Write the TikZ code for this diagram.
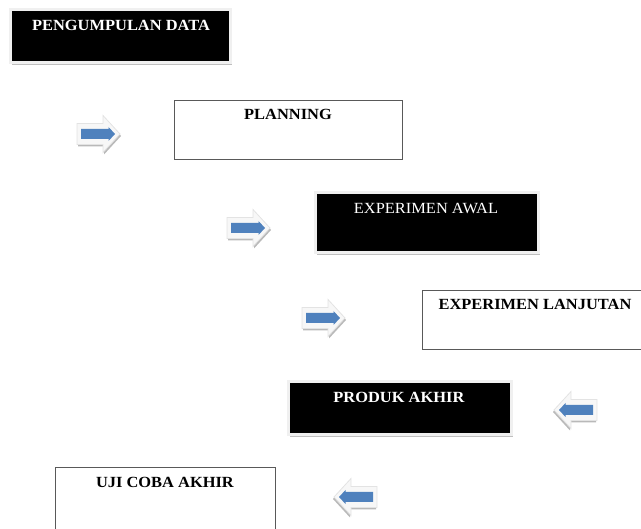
\documentclass[tikz,border=0pt]{standalone}
\usepackage{fontspec}
\setmainfont{Liberation Serif}
\usetikzlibrary{shadows}
\definecolor{arrowblue}{HTML}{4F81BD}
\tikzset{
  blackbox/.style={rectangle, fill=black, draw=gray!12, line width=3pt, inner sep=0pt,
    drop shadow={shadow xshift=2pt, shadow yshift=-2.5pt, fill=gray!50, opacity=1}},
  whitebox/.style={rectangle, fill=white, draw=black!65, line width=0.9pt, inner sep=0pt},
  boxlabel/.style={anchor=north, inner sep=0pt, xscale=1.06, font=\fontsize{15.5}{16}\selectfont},
  arrowshadow/.style={fill=gray!55, draw=none},
  arrowouter/.style={fill=gray!6, draw=gray!22, line width=0.8pt},
  arrowinner/.style={fill=arrowblue, draw=none},
  blockarrow/.pic={
    \path[arrowshadow] (-20.5,-8.5) -- (5.5,-8.5) -- (5.5,-16.5) -- (22.5,2) -- (5.5,20.5) -- (5.5,12.5) -- (-20.5,12.5) -- cycle;
    \path[arrowouter] (-21.5,-10.5) -- (4.5,-10.5) -- (4.5,-18.5) -- (21.5,0) -- (4.5,18.5) -- (4.5,10.5) -- (-21.5,10.5) -- cycle;
    \path[arrowinner] (-17.5,-5) -- (10,-5) -- (10,-7) -- (16.5,0) -- (10,7) -- (10,5) -- (-17.5,5) -- cycle;
  }
}
\begin{document}
\begin{tikzpicture}[x=1pt,y=-1pt]
\useasboundingbox (0,0) rectangle (641,529);
\clip (0,0) rectangle (641,529);
% boxes
\node[blackbox, minimum width=220pt, minimum height=53pt] (b1) at (120,36.5) {};
\node[whitebox, minimum width=228pt, minimum height=59pt] (b2) at (288,129.5) {};
\node[blackbox, minimum width=223pt, minimum height=60pt] (b3) at (426.5,223) {};
\node[whitebox, minimum width=223pt, minimum height=59pt] (b4) at (533.5,319.5) {};
\node[blackbox, minimum width=223pt, minimum height=53pt] (b5) at (399.5,408.5) {};
\node[whitebox, minimum width=220pt, minimum height=70pt] (b6) at (165,502) {};
% labels
\node[boxlabel, text=white] (t1) at (121,20) {\textbf{PENGUMPULAN DATA}};
\node[boxlabel] (t2) at (288,109) {\textbf{PLANNING}};
\node[boxlabel, text=white] (t3) at (426,203) {EXPERIMEN AWAL};
\node[boxlabel] (t4) at (535,299) {\textbf{EXPERIMEN LANJUTAN}};
\node[boxlabel, text=white] (t5) at (399,392) {\textbf{PRODUK AKHIR}};
\node[boxlabel] (t6) at (165,477) {\textbf{UJI COBA AKHIR}};
% arrows
\pic (a1) at (98.5,134) {blockarrow};
\pic (a2) at (248.5,228) {blockarrow};
\pic (a3) at (323.5,318) {blockarrow};
\pic[xscale=-1] (a4) at (575.5,410) {blockarrow};
\pic[xscale=-1] (a5) at (355.5,497) {blockarrow};
\end{tikzpicture}
\end{document}
